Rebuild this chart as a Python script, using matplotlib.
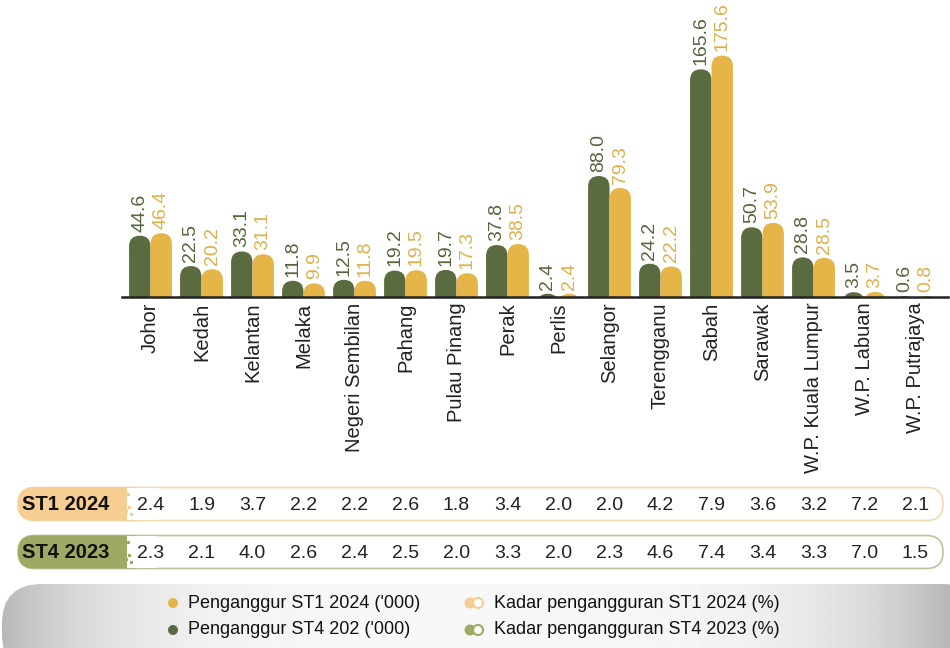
import matplotlib

matplotlib.use("Agg")
import matplotlib.pyplot as plt
import numpy as np
from matplotlib.patches import FancyBboxPatch, Rectangle, Circle
from matplotlib.transforms import blended_transform_factory

plt.rcParams["font.family"] = ["Liberation Sans", "DejaVu Sans"]

states = ["Johor", "Kedah", "Kelantan", "Melaka", "Negeri Sembilan", "Pahang",
          "Pulau Pinang", "Perak", "Perlis", "Selangor", "Terengganu", "Sabah",
          "Sarawak", "W.P. Kuala Lumpur", "W.P. Labuan", "W.P. Putrajaya"]
unemp_st4_2023 = [44.6, 22.5, 33.1, 11.8, 12.5, 19.2, 19.7, 37.8, 2.4, 88.0,
                  24.2, 165.6, 50.7, 28.8, 3.5, 0.6]
unemp_st1_2024 = [46.4, 20.2, 31.1, 9.9, 11.8, 19.5, 17.3, 38.5, 2.4, 79.3,
                  22.2, 175.6, 53.9, 28.5, 3.7, 0.8]
rate_st1_2024 = [2.4, 1.9, 3.7, 2.2, 2.2, 2.6, 1.8, 3.4, 2.0, 2.0, 4.2, 7.9,
                 3.6, 3.2, 7.2, 2.1]
rate_st4_2023 = [2.3, 2.1, 4.0, 2.6, 2.4, 2.5, 2.0, 3.3, 2.0, 2.3, 4.6, 7.4,
                 3.4, 3.3, 7.0, 1.5]

GREEN = "#5b6b40"
YELLOW = "#e5b647"
GREEN_TXT = "#55653c"
YELLOW_TXT = "#dfb04a"
W, H = 950, 648

fig = plt.figure(figsize=(W / 100, H / 100), dpi=100)

# decoration layer in pixel coordinates
deco = fig.add_axes([0, 0, 1, 1])
deco.set_xlim(0, W)
deco.set_ylim(H, 0)
deco.axis("off")

# bar axes
x0, x1, ybase = 122, 948, 297
ax = fig.add_axes([x0 / W, 1 - ybase / H, (x1 - x0) / W, ybase / H])
n = len(states)
xpos = np.arange(n)
step = 51.0  # px per category
left = -(150.5 - x0) / step
right = left + (x1 - x0) / step
ax.set_xlim(left, right)
ymax = 216
ax.set_ylim(0, ymax)
for s in ["top", "right", "left"]:
    ax.spines[s].set_visible(False)
ax.spines["bottom"].set_linewidth(1.8)
ax.spines["bottom"].set_color("#222222")
ax.set_yticks([])
ax.set_xticks(xpos)
ax.set_xticklabels(states, rotation=90, fontsize=14.5, color="#222222")
ax.tick_params(axis="x", length=0, pad=4)

bw = 0.42
px_y = ybase / ymax
aspect = step / px_y  # data-y per data-x for same pixel length
r = bw / 2


def round_bar(xc, h, color):
    p = FancyBboxPatch((xc - bw / 2, -r * aspect * 2), bw, h + r * aspect * 2,
                       boxstyle=f"round,pad=0,rounding_size={r}",
                       mutation_aspect=aspect, fc=color, ec="none")
    p.set_clip_on(True)
    ax.add_patch(p)


for i in range(n):
    g, y = unemp_st4_2023[i], unemp_st1_2024[i]
    round_bar(i - bw / 2, g, GREEN)
    round_bar(i + bw / 2, y, YELLOW)
    ax.text(i - bw / 2, g + 3, f"{g:.1f}", rotation=90, ha="center", va="bottom",
            fontsize=14, color=GREEN_TXT)
    ax.text(i + bw / 2, y + 3, f"{y:.1f}", rotation=90, ha="center", va="bottom",
            fontsize=14, color=YELLOW_TXT)

# rate table rows
blend = blended_transform_factory(ax.transData, deco.transData)
rows = [("ST1 2024", rate_st1_2024, 504, "#f6cd92", "#f3d8ae"),
        ("ST4 2023", rate_st4_2023, 552, "#9caa63", "#b9c49a")]
for label, vals, yc, fill, edge in rows:
    hh = 33
    deco.add_patch(FancyBboxPatch((18, yc - hh / 2), 925, hh,
                                  boxstyle=f"round,pad=0,rounding_size={hh / 2}",
                                  fc="white", ec=edge, lw=1.2))
    deco.add_patch(FancyBboxPatch((18, yc - hh / 2), 130, hh,
                                  boxstyle=f"round,pad=0,rounding_size={hh / 2}",
                                  fc=fill, ec="none"))
    deco.add_patch(Rectangle((127, yc - hh / 2 + 0.8), 30, hh - 1.6,
                             fc="white", ec="none"))
    # dissolve edge
    for dx, dy in [(0, 2), (4, 9), (1, 15), (6, 22), (2, 27),
                   (8, 5), (9, 18), (3, 11), (11, 25)]:
        deco.add_patch(Rectangle((119 + dx, yc - hh / 2 + dy), 3, 3,
                                 fc=fill, ec="none"))
    deco.text(22, yc + 1, label, fontsize=14.5, fontweight="bold", color="#111111",
              va="center", ha="left")
    for i, v in enumerate(vals):
        deco.text(i, yc + 1, f"{v:.1f}", transform=blend, fontsize=14,
                  color="#222222", ha="center", va="center")

# legend panel with grey gradient
panel = FancyBboxPatch((2, 584), W + 30, 90,
                       boxstyle="round,pad=0,rounding_size=40",
                       fc="none", ec="none")
deco.add_patch(panel)
xs = np.linspace(0, 1, 400)
grad = 0.97 - 0.25 * (np.abs(xs - 0.5) * 2) ** 4
img = np.tile(grad, (20, 1))
im = deco.imshow(img, extent=(0, W, H, 584), cmap="gray", vmin=0, vmax=1,
                 aspect="auto", zorder=0)
im.set_clip_path(panel)

leg_font = ["Liberation Sans Narrow", "Liberation Sans", "DejaVu Sans"]
deco.add_patch(Circle((173, 603), 5, fc=YELLOW, ec="none", zorder=3))
deco.add_patch(Circle((173, 630), 5, fc=GREEN, ec="none", zorder=3))
deco.text(188, 603, "Penganggur ST1 2024 ('000)", family=leg_font,
          fontsize=13, va="center", color="#111111")
deco.text(188, 630, "Penganggur ST4 202 ('000)", family=leg_font,
          fontsize=13, va="center", color="#111111")
deco.add_patch(Circle((470, 603), 5.5, fc="#f6cd92", ec="none", zorder=3))
deco.add_patch(Circle((478, 603), 5, fc="white", ec="#f6cd92", lw=1.5, zorder=3))
deco.add_patch(Circle((470, 630), 5.5, fc="#9caa63", ec="none", zorder=3))
deco.add_patch(Circle((478, 630), 5, fc="white", ec="#9caa63", lw=1.5, zorder=3))
deco.text(494, 603, "Kadar pengangguran ST1 2024 (%)", family=leg_font,
          fontsize=13, va="center", color="#111111")
deco.text(494, 630, "Kadar pengangguran ST4 2023 (%)", family=leg_font,
          fontsize=13, va="center", color="#111111")

fig.savefig("out.png", dpi=100)
